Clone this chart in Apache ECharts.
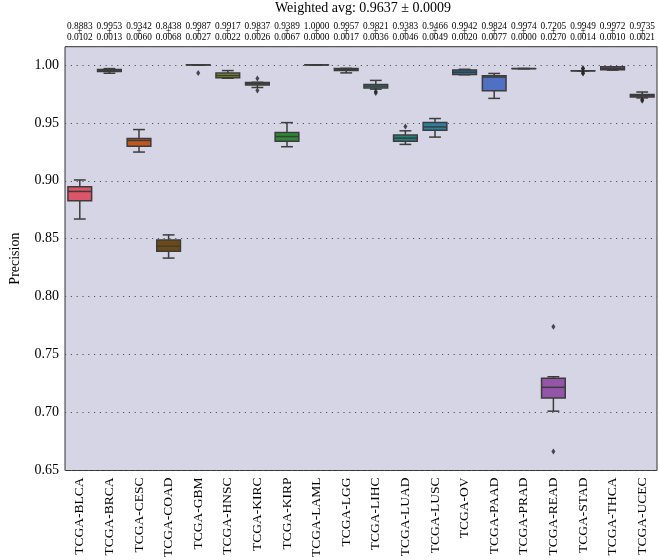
<!DOCTYPE html>
<html><head><meta charset="utf-8">
<script src="https://cdn.jsdelivr.net/npm/echarts@6/dist/echarts.min.js"></script>
<style>html,body{margin:0;padding:0;background:#fff}#c{width:659px;height:560px}</style>
</head><body><div id="c"></div>
<script>
const categories = ['TCGA-BLCA','TCGA-BRCA','TCGA-CESC','TCGA-COAD','TCGA-GBM','TCGA-HNSC','TCGA-KIRC','TCGA-KIRP','TCGA-LAML','TCGA-LGG','TCGA-LIHC','TCGA-LUAD','TCGA-LUSC','TCGA-OV','TCGA-PAAD','TCGA-PRAD','TCGA-READ','TCGA-STAD','TCGA-THCA','TCGA-UCEC'];
const meanVals = ['0.8883','0.9953','0.9342','0.8438','0.9987','0.9917','0.9837','0.9389','1.0000','0.9957','0.9821','0.9383','0.9466','0.9942','0.9824','0.9974','0.7205','0.9949','0.9972','0.9735'];
const stdVals = ['0.0102','0.0013','0.0060','0.0068','0.0027','0.0022','0.0026','0.0067','0.0000','0.0017','0.0036','0.0046','0.0049','0.0020','0.0077','0.0000','0.0270','0.0014','0.0010','0.0021'];
const whiskerLow = [0.8670,0.9928,0.9248,0.8333,1.0000,0.9885,0.9805,0.9294,1.0000,0.9931,0.9791,0.9314,0.9377,0.9915,0.9711,0.9968,0.7012,0.9949,0.9955,0.9715];
const q1Vals     = [0.8828,0.9942,0.9297,0.8393,1.0000,0.9888,0.9826,0.9342,1.0000,0.9951,0.9800,0.9342,0.9437,0.9917,0.9777,0.9968,0.7126,0.9949,0.9958,0.9723];
const medianVals = [0.8908,0.9950,0.9348,0.8436,1.0000,0.9908,0.9837,0.9382,1.0000,0.9960,0.9817,0.9368,0.9465,0.9937,0.9895,0.9968,0.7218,0.9949,0.9970,0.9734];
const q3Vals     = [0.8948,0.9960,0.9365,0.8490,1.0000,0.9929,0.9848,0.9417,1.0000,0.9968,0.9831,0.9394,0.9502,0.9957,0.9906,0.9968,0.7295,0.9949,0.9983,0.9745];
const whiskerHigh= [0.9007,0.9968,0.9442,0.8533,1.0000,0.9951,0.9850,0.9502,1.0000,0.9970,0.9866,0.9431,0.9537,0.9962,0.9926,0.9968,0.7309,0.9949,0.9984,0.9766];
const outliers = [[4,0.9931],[6,0.9883],[6,0.9780],[10,0.9771],[10,0.9758],[11,0.9468],[16,0.7741],[16,0.6663],[17,0.9972],[17,0.9966],[17,0.9931],[17,0.9926],[19,0.9700],[19,0.9690]];
const yTicks = [0.65,0.70,0.75,0.80,0.85,0.90,0.95,1.00];
const titleText = 'Weighted avg: 0.9637 ± 0.0009';

const palette = ['#dd5569','#b85a2e','#c0581e','#6b4a14','#8f7a1a','#7f8c1c','#5e9a2a','#2c8a35','#2a9156','#2a9477','#2a9a96','#24827e','#2a80a0','#2a6fa8','#5070c4','#7060c0','#9454a8','#a04eac','#a0489a','#b8406a'];
const serif = '"Liberation Serif","DejaVu Serif",serif';
const edge = '#3c3c3c';

const boxData = categories.map((c,i)=>[i, whiskerLow[i], q1Vals[i], medianVals[i], q3Vals[i], whiskerHigh[i]]);

const chart = echarts.init(document.getElementById('c'), null, {renderer:'canvas'});
chart.setOption({
  backgroundColor:'#ffffff',
  animation:false,
  title:{text:titleText, left:363, top:1, padding:0, textAlign:'center',
    textStyle:{fontFamily:serif, fontSize:14, fontWeight:'normal', color:'#000', lineHeight:14}},
  grid:{left:57.7, right:2, top:46.7, bottom:87, show:true, backgroundColor:'#d5d5e6', borderColor:'#333', borderWidth:1},
  xAxis:[{
    type:'category', data:categories, position:'bottom',
    axisLine:{show:false}, axisTick:{show:false}, splitLine:{show:false},
    axisLabel:{rotate:90, interval:0, margin:7, fontFamily:serif, fontSize:13.5, color:'#000'}
  },{
    type:'category', data:categories, position:'top',
    axisLine:{show:false}, axisTick:{show:false}, splitLine:{show:false},
    axisLabel:{interval:0, margin:6, fontFamily:serif, fontSize:9.3, color:'#000', lineHeight:5.8,
      formatter:(v,i)=> meanVals[i] + '\n±\n' + stdVals[i]}
  }],
  yAxis:{
    type:'value', min:0.65, max:1.0157, interval:0.05,
    name:'Precision', nameLocation:'middle', nameGap:43, nameRotate:90,
    nameTextStyle:{fontFamily:serif, fontSize:14, color:'#000'},
    axisLine:{show:false}, axisTick:{show:false},
    axisLabel:{showMaxLabel:false, margin:6, fontFamily:serif, fontSize:14, color:'#000',
      formatter:v=>{const t=yTicks.find(x=>Math.abs(x-v)<1e-6); return t===undefined?'':t.toFixed(2);}},
    splitLine:{show:true, lineStyle:{color:'#555', width:1, type:[1.2,4.6]}}
  },
  series:[{
    type:'custom',
    data:boxData,
    encode:{x:0, y:[1,2,3,4,5]},
    renderItem:(params, api)=>{
      const i = api.value(0);
      const lo = api.coord([i, api.value(1)]);
      const q1 = api.coord([i, api.value(2)]);
      const md = api.coord([i, api.value(3)]);
      const q3 = api.coord([i, api.value(4)]);
      const hi = api.coord([i, api.value(5)]);
      const band = api.size([1,0])[0];
      const w = band*0.8, cap = w*0.5;
      const x = lo[0];
      const ls = {stroke:edge, lineWidth:1.5};
      return {type:'group', children:[
        {type:'line', shape:{x1:x,y1:q1[1],x2:x,y2:lo[1]}, style:ls},
        {type:'line', shape:{x1:x-cap/2,y1:lo[1],x2:x+cap/2,y2:lo[1]}, style:ls},
        {type:'line', shape:{x1:x,y1:q3[1],x2:x,y2:hi[1]}, style:ls},
        {type:'line', shape:{x1:x-cap/2,y1:hi[1],x2:x+cap/2,y2:hi[1]}, style:ls},
        {type:'rect', shape:{x:x-w/2, y:q3[1], width:w, height:Math.max(q1[1]-q3[1],0.01)},
          style:{fill:palette[i], stroke:edge, lineWidth:1.5}},
        {type:'line', shape:{x1:x-w/2,y1:md[1],x2:x+w/2,y2:md[1]}, style:ls}
      ]};
    },
    z:3
  },{
    type:'scatter', data:outliers, symbol:'diamond', symbolSize:[4,6],
    itemStyle:{color:'#222'}, z:4
  }]
});
</script></body></html>
